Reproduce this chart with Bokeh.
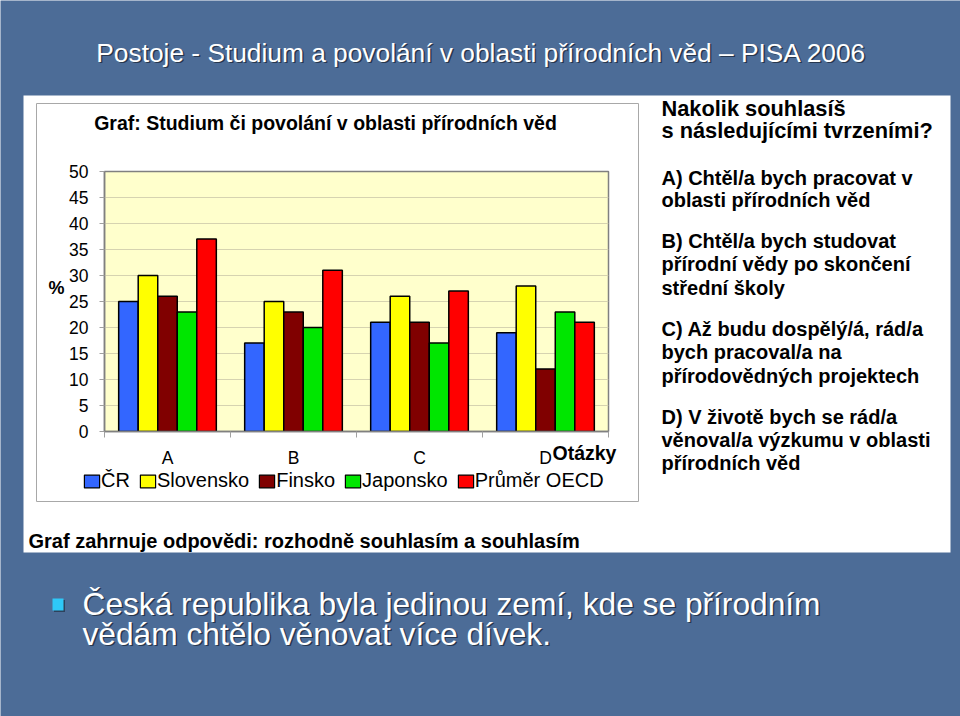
from bokeh.plotting import figure
from bokeh.models import (Range1d, FixedTicker, Legend, ColumnDataSource)
from bokeh.layouts import column
from bokeh.core.properties import value
from bokeh.transform import dodge
from bokeh.embed import file_html
from bokeh.resources import INLINE

# ---------------- data ----------------
questions = ["A", "B", "C", "D"]
series_names = ["ČR", "Slovensko", "Finsko", "Japonsko", "Průměr OECD"]
cr = [25, 17, 21, 19]
slovensko = [30, 25, 26, 28]
finsko = [26, 23, 21, 12]
japonsko = [23, 20, 17, 23]
oecd = [37, 31, 27, 21]
y_ticks = [0, 5, 10, 15, 20, 25, 30, 35, 40, 45, 50]

slide_title = "Postoje - Studium a povolání v oblasti přírodních věd – PISA 2006"
chart_title = "Graf: Studium či povolání v oblasti přírodních věd"
x_title = "Otázky"
y_title = "%"
right_head = ["Nakolik souhlasíš", "s následujícími tvrzeními?"]
right_lines = [
    ["A) Chtěl/a bych pracovat v", "oblasti přírodních věd"],
    ["B) Chtěl/a bych studovat", "přírodní vědy po skončení", "střední školy"],
    ["C) Až budu dospělý/á, rád/a", "bych pracoval/a na", "přírodovědných projektech"],
    ["D) V životě bych se rád/a", "věnoval/a výzkumu v oblasti", "přírodních věd"],
]
note = "Graf zahrnuje odpovědi: rozhodně souhlasím a souhlasím"
bullet_lines = ["Česká republika byla jedinou zemí, kde se přírodním",
                "vědám chtělo věnovat více dívek."]

colors = ["#3366FF", "#FFFF00", "#800000", "#00E600", "#FF0000"]
values = [cr, slovensko, finsko, japonsko, oecd]

FONT = "Liberation Sans"
BG = "#4c6c97"
W, H = 960, 716

# ---------------- background slide (pixel coordinates, y down) ----------------
bg = figure(width=W, height=H, output_backend="svg", toolbar_location=None,
            x_range=Range1d(0, W), y_range=Range1d(H, 0),
            min_border=0, min_border_left=0, min_border_right=0,
            min_border_top=0, min_border_bottom=0)
bg.axis.visible = False
bg.grid.visible = False
bg.outline_line_color = None
bg.background_fill_color = BG
bg.border_fill_color = BG

bg.quad(left=[23], right=[950], top=[95], bottom=[552], fill_color="white",
        line_color=None)
bg.quad(left=[36], right=[638], top=[103], bottom=[501], fill_color="white",
        line_color="#a8a8a8", line_width=1)

def txt(x, y, texts, size, bold=False, color="black", align="left", shadow=False):
    if shadow:
        bg.text(x=[xx + 1.5 for xx in x], y=[yy + 1.5 for yy in y], text=texts,
                text_font=value(FONT), text_font_size=size,
                text_font_style="bold" if bold else "normal",
                text_color="#1b2636", text_alpha=0.75,
                text_align=align, text_baseline="middle")
    bg.text(x=x, y=y, text=texts, text_font=value(FONT), text_font_size=size,
            text_font_style="bold" if bold else "normal", text_color=color,
            text_align=align, text_baseline="middle")

txt([481], [52], [slide_title], "26.3px", color="white", align="center", shadow=True)
txt([325], [122], [chart_title], "19.5px", bold=True, align="center")
txt([552], [452], [x_title], "19.5px", bold=True)
txt([56], [287], [y_title], "18px", bold=True, align="center")

txt([661, 661], [108, 130], right_head, "21.8px", bold=True)
row_y = [[177, 199], [240, 263, 287], [328, 351, 375], [416, 439, 462]]
rx, ry, rt = [], [], []
for lines, ys in zip(right_lines, row_y):
    for t, Y in zip(lines, ys):
        rx.append(661); ry.append(Y); rt.append(t)
txt(rx, ry, rt, "20px", bold=True)

txt([28], [540], [note], "20px", bold=True)

bg.quad(left=[53.5], right=[64.5], top=[599.5], bottom=[611.5], fill_color="#1b2636",
        fill_alpha=0.6, line_color=None)
bg.quad(left=[52], right=[63], top=[598], bottom=[610], fill_color="#2ec8f8",
        line_color=None)
txt([82, 82], [603, 633], bullet_lines, "31.7px", color="white", shadow=True)

# legend swatches (series colours) for the chart legend; one hidden sample each
leg_r = []
for name, col in zip(series_names, colors):
    leg_r.append((name, [bg.quad(left=[-120], right=[-110], top=[-100], bottom=[-110],
                                 fill_color=col, line_color="black",
                                 line_width=1.2)]))
legend = Legend(items=leg_r, orientation="horizontal",
                location=(82, H - 492), background_fill_alpha=0, border_line_alpha=0,
                glyph_width=19, glyph_height=16, label_height=20,
                label_standoff=0, spacing=8, padding=0, margin=0,
                label_text_font=FONT, label_text_font_size="20px",
                label_text_color="black")
bg.add_layout(legend)

# ---------------- chart (transparent overlay) ----------------
p = figure(width=W, height=H, output_backend="svg", toolbar_location=None,
           x_range=Range1d(0, len(questions)), y_range=Range1d(0, 50),
           min_border_left=104, min_border_right=W - 608,
           min_border_top=171, min_border_bottom=H - 431)
p.border_fill_color = None
p.background_fill_color = "#FFFFCC"
p.outline_line_color = "#808080"
p.outline_line_width = 1.5

p.xgrid.visible = False
p.ygrid.ticker = FixedTicker(ticks=y_ticks)
p.ygrid.grid_line_color = "#d6d3b0"
p.ygrid.grid_line_width = 1.2

pos = [i + 0.5 for i in range(len(questions))]
src_data = {"pos": pos}
for name, vals in zip(series_names, values):
    src_data[name] = vals
src = ColumnDataSource(src_data)
bw = 0.155
for j, (name, col) in enumerate(zip(series_names, colors)):
    p.vbar(x=dodge("pos", (j - 2) * bw, range=p.x_range), top=name, width=bw,
           bottom=0, source=src, fill_color=col, line_color="black",
           line_width=1.5)

xa = p.xaxis[0]
xa.ticker = FixedTicker(ticks=pos, minor_ticks=list(range(len(questions) + 1)))
xa.major_label_overrides = {pv: q for pv, q in zip(pos, questions)}
xa.major_tick_line_color = None
xa.minor_tick_line_color = "#a0a0a0"
xa.minor_tick_out = 6
xa.minor_tick_in = 0
xa.axis_line_color = "#808080"
xa.axis_line_width = 1.5
xa.major_label_standoff = 10
xa.major_label_text_font = FONT
xa.major_label_text_font_size = "17.5px"
xa.major_label_text_color = "black"

ya = p.yaxis[0]
ya.ticker = FixedTicker(ticks=y_ticks)
ya.major_tick_out = 5
ya.major_tick_in = 0
ya.major_tick_line_color = "#a0a0a0"
ya.minor_tick_line_color = None
ya.axis_line_color = "#808080"
ya.axis_line_width = 1.5
ya.major_label_standoff = 11
ya.major_label_text_font = FONT
ya.major_label_text_font_size = "17.5px"
ya.major_label_text_color = "black"

back = column(bg, spacing=0)
front = column(p, spacing=0)
front.margin = (-H, 0, 0, 0)
page = column(back, front, spacing=0)

open("out.html", "w").write(file_html(page, INLINE))
